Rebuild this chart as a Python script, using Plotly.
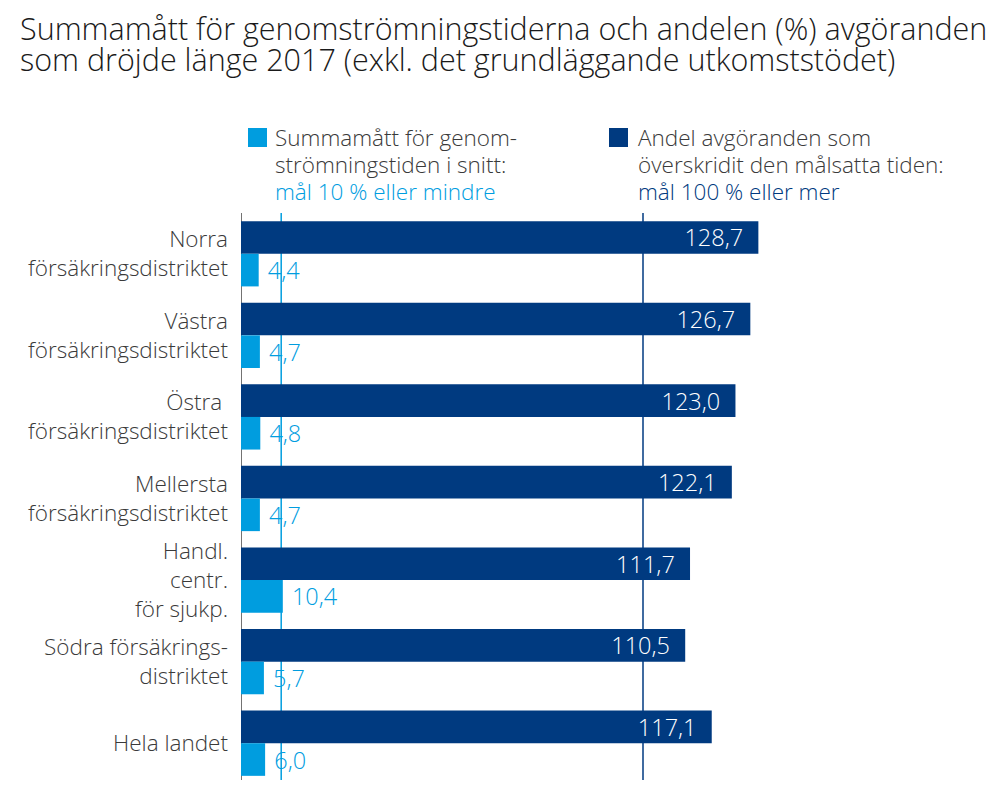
import plotly.graph_objects as go

# data
districts = [
    "Norra<br>försäkringsdistriktet",
    "Västra<br>försäkringsdistriktet",
    "Östra\u00a0<br>försäkringsdistriktet",
    "Mellersta<br>försäkringsdistriktet",
    "Handl.<br>centr.<br>för sjukp.",
    "Södra försäkrings-<br>distriktet",
    "Hela landet",
]
andel_overskridit = [128.7, 126.7, 123.0, 122.1, 111.7, 110.5, 117.1]
summamatt = [4.4, 4.7, 4.8, 4.7, 10.4, 5.7, 6.0]
goal_lines = [10, 100]

title_lines = [
    "Summamått för genomströmningstiderna och andelen (%) avgöranden",
    "som dröjde länge 2017 (exkl. det grundläggande utkomststödet)",
]
legend_light = ["Summamått för genom-", "strömningstiden i snitt:", "mål 10 % eller mindre"]
legend_dark = ["Andel avgöranden som", "överskridit den målsatta tiden:", "mål 100 % eller mer"]

DARK = "#003a80"
LIGHT = "#009ddf"
TEXT = "#3a3a3a"
FONT = "Open Sans"

# the page body has an 8px margin, so the figure is a bit smaller
OFF = 8
W, H = 1005 - OFF, 798 - OFF
L, R, T, B = 241 - OFF, 3, 213 - OFF, 14
xmax = (W - L - R) / 4.02


def px(x):
    return (x - OFF - L) / (W - L - R)


def py(y):
    return (H - B - (y - OFF)) / (H - T - B)


fig = go.Figure()
fig.add_trace(go.Bar(
    y=districts, x=andel_overskridit, orientation="h",
    marker=dict(color=DARK, line=dict(width=0)),
    texttemplate="%{x:.1f}\u00a0\u00a0", textposition="inside",
    insidetextanchor="end", constraintext="none",
    textfont=dict(color="white", size=23.5, family=FONT, weight=300),
    name="Andel",
))
fig.add_trace(go.Bar(
    y=districts, x=summamatt, orientation="h",
    marker=dict(color=LIGHT, line=dict(width=0)),
    texttemplate="\u00a0%{x:.1f}", textposition="outside", constraintext="none",
    textfont=dict(color=LIGHT, size=23.5, family=FONT, weight=300),
    cliponaxis=False,
    name="Summamått",
))

# zero line and the goal lines
fig.add_shape(type="line", xref="x", yref="paper", x0=0, x1=0, y0=py(780), y1=1,
              line=dict(color="#444444", width=1.5), layer="below")
for g, c in zip(goal_lines, [LIGHT, DARK]):
    fig.add_shape(type="line", xref="x", yref="paper", x0=g, x1=g, y0=py(780), y1=1,
                  line=dict(color=c, width=1.5), layer="below")

# legend: square + three lines of text, the last one in the series colour
for sq_x, txt_x, lines, col in [(248, 273, legend_light, LIGHT), (609, 636, legend_dark, DARK)]:
    fig.add_shape(type="rect", xref="paper", yref="paper",
                  x0=px(sq_x), x1=px(sq_x + 19), y0=py(147), y1=py(128),
                  fillcolor=col, line=dict(width=0))
    for i, line in enumerate(lines):
        fig.add_annotation(
            xref="paper", yref="paper", x=px(txt_x), y=py(120 + 27 * i),
            xanchor="left", yanchor="top", showarrow=False, text=line,
            font=dict(size=22.5, color=col if i == 2 else TEXT, family=FONT, weight=300),
        )

# title, one annotation per line to keep the tight line spacing
for i, line in enumerate(title_lines):
    fig.add_annotation(
        xref="paper", yref="paper", x=px(18), y=py(5 + 31 * i),
        xanchor="left", yanchor="top", showarrow=False, text=line,
        font=dict(size=30.5, color="#1a1a1a", family=FONT, weight=300),
    )

fig.update_layout(
    width=W, height=H,
    margin=dict(l=L, r=R, t=T, b=B),
    barmode="group", bargap=0.2, bargroupgap=0,
    separators=", ",
    showlegend=False,
    plot_bgcolor="white", paper_bgcolor="white",
    xaxis=dict(range=[0, xmax], visible=False, fixedrange=True),
    yaxis=dict(
        autorange="reversed", showgrid=False, zeroline=False, showline=False,
        ticks="", ticklabelstandoff=12,
        tickfont=dict(size=22.5, color=TEXT, family=FONT, weight=300),
    ),
)

fig.write_html("out.html")
